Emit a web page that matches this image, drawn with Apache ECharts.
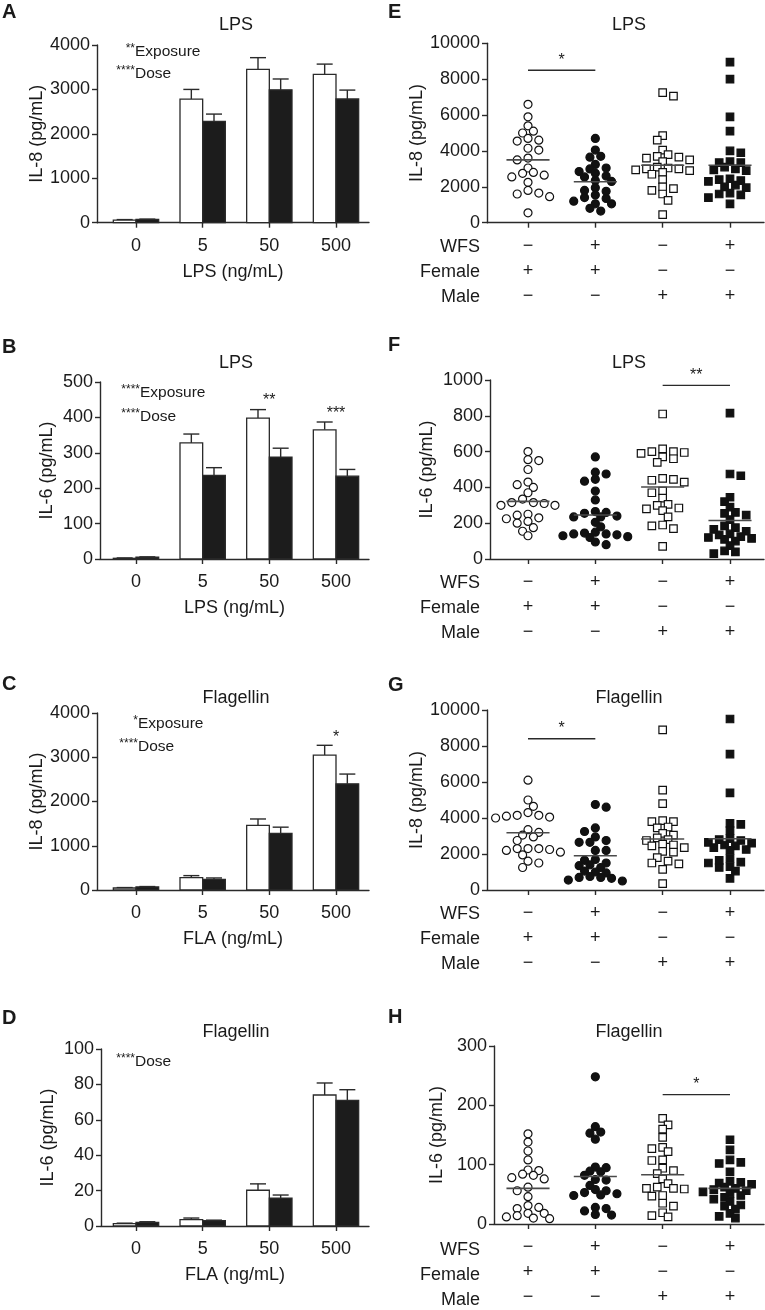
<!DOCTYPE html>
<html><head><meta charset="utf-8">
<script src="https://cdn.jsdelivr.net/npm/echarts@6/dist/echarts.min.js"></script>
<style>html,body{margin:0;padding:0;background:#fff}#c{width:765px;height:1310px}</style>
</head><body><div id="c"></div>
<script>
// ---------------- DATA ----------------
const doseLabels = ['0', '5', '50', '500'];
const wfsRow    = ['\u2212', '+', '\u2212', '+'];
const femaleRow = ['+', '+', '\u2212', '\u2212'];
const maleRow   = ['\u2212', '\u2212', '+', '+'];
const rowNames  = ['WFS', 'Female', 'Male'];

// A: IL-8, LPS (air = white, WFS = black), mean and SEM
const A_airMean = [60, 2780, 3450, 3340];
const A_airSem  = [10, 220, 265, 230];
const A_wfsMean = [75, 2280, 2990, 2785];
const A_wfsSem  = [5, 165, 245, 200];
// B: IL-6, LPS
const B_airMean = [2, 328, 398, 365];
const B_airSem  = [1, 25, 24, 22];
const B_wfsMean = [5, 236, 288, 234];
const B_wfsSem  = [1, 22, 25, 19];
const B_stars   = [[2, 448, '**'], [3, 412, '***']];
// C: IL-8, Flagellin
const C_airMean = [45, 280, 1460, 3050];
const C_airSem  = [10, 45, 145, 220];
const C_wfsMean = [70, 242, 1280, 2400];
const C_wfsSem  = [8, 30, 140, 220];
const C_stars   = [[3, 3440, '*']];
// D: IL-6, Flagellin
const D_airMean = [1.3, 3.6, 20.2, 74];
const D_airSem  = [0.3, 0.9, 3.6, 6.8];
const D_wfsMean = [2.1, 3.0, 15.8, 71];
const D_wfsSem  = [0.3, 0.3, 1.7, 6];

// E: IL-8, LPS, individual donors
const E_femAir  = [6600, 5900, 5400, 5100, 5000, 4700, 4600, 4550, 4150, 4050, 3600, 3500, 3050, 2800, 2750, 2650, 2550, 2250, 1800, 1650, 1600, 1450, 550];
const E_femWfs  = [4700, 4050, 3700, 3650, 3250, 3050, 3000, 2850, 2750, 2600, 2550, 2350, 2300, 1950, 1800, 1750, 1550, 1400, 1350, 1200, 1050, 1050, 800, 650];
const E_maleAir = [7250, 7050, 4850, 4600, 4050, 3800, 3700, 3650, 3600, 3500, 3400, 3100, 3050, 3000, 3000, 2950, 2900, 2800, 2700, 2400, 2000, 1900, 1800, 1600, 1250, 450];
const E_maleWfs = [8950, 8000, 5900, 5100, 4000, 3900, 3400, 3350, 3350, 3100, 3000, 2950, 2900, 2450, 2400, 2350, 2300, 2100, 2000, 1950, 1650, 1600, 1550, 1400, 1050];
const E_means   = [3500, 2280, 3200, 3200];
const E_sig     = [[0, 1, 8500, '*']];
// F: IL-6, LPS
const F_femAir  = [600, 555, 550, 500, 430, 415, 400, 370, 335, 315, 310, 300, 300, 315, 250, 245, 230, 225, 210, 200, 175, 155, 130];
const F_femWfs  = [570, 485, 475, 445, 435, 380, 330, 260, 265, 255, 240, 235, 235, 205, 180, 150, 145, 140, 140, 135, 130, 125, 120, 95, 80];
const F_maleAir = [810, 615, 600, 600, 595, 590, 570, 560, 540, 450, 445, 440, 430, 380, 370, 340, 305, 300, 285, 280, 270, 235, 190, 185, 170, 70];
const F_maleWfs = [815, 475, 465, 345, 320, 290, 260, 255, 245, 220, 185, 175, 165, 155, 140, 135, 125, 120, 115, 110, 100, 75, 45, 40, 30];
const F_means   = [322, 246, 402, 215];
const F_sig     = [[2, 3, 970, '**']];
// G: IL-8, Flagellin
const G_femAir  = [6100, 5000, 4650, 4300, 4150, 4050, 4000, 4100, 4150, 3350, 3200, 3050, 2950, 2750, 2300, 2300, 2200, 2100, 2250, 2300, 1950, 1600, 1500, 1250];
const G_femWfs  = [4750, 4600, 3450, 3250, 2950, 2750, 2650, 2650, 2200, 2200, 1700, 1650, 1500, 1400, 1350, 1250, 1050, 1000, 950, 750, 700, 700, 650, 550, 500];
const G_maleAir = [8900, 5550, 4800, 3850, 3800, 3800, 3500, 3450, 3150, 3050, 2900, 2800, 2750, 2550, 2500, 2450, 2350, 2150, 2100, 1800, 1600, 1450, 1500, 1150, 350];
const G_maleWfs = [9500, 7550, 5400, 3700, 3650, 3300, 2850, 2800, 2750, 2650, 2600, 2500, 2450, 2350, 2250, 2200, 1750, 1650, 1550, 1500, 1300, 1250, 1050, 650];
const G_means   = [3180, 1900, 2830, 2850];
const G_sig     = [[0, 1, 8400, '*']];
// H: IL-6, Flagellin
const H_femAir  = [152, 138, 123, 108, 91, 90, 84, 78, 76, 82, 62, 56, 46, 31, 28, 26, 18, 18, 14, 12, 10, 9];
const H_femWfs  = [248, 164, 155, 153, 143, 96, 95, 89, 88, 82, 75, 74, 65, 58, 56, 53, 51, 49, 48, 28, 26, 22, 16, 15];
const H_maleAir = [178, 167, 160, 146, 129, 127, 122, 108, 107, 94, 90, 85, 76, 68, 62, 60, 60, 59, 48, 47, 35, 30, 19, 14, 12];
const H_maleWfs = [142, 125, 108, 104, 102, 88, 72, 70, 69, 67, 62, 60, 58, 56, 54, 52, 48, 45, 42, 38, 32, 30, 25, 18, 13, 10];
const H_means   = [60, 80, 83, 60];
const H_sig     = [[2, 3, 218, '*']];

// ---------------- LAYOUT ----------------
const FONT = '"Liberation Sans", Arial, Helvetica, sans-serif';
const INK = '#1a1a1a';
const AX = '#2a2a2a';

const barPanels = [
  {letter:'A', title:'LPS', yName:'IL-8 (pg/mL)', xName:'LPS (ng/mL)', left:97, top:45, width:272, height:177.7, xMin:-0.585, xMax:3.495, yMax:4000, yInt:1000,
   air:[A_airMean, A_airSem], wfs:[A_wfsMean, A_wfsSem], stars:[], notes:[['**','Exposure',52],['****','Dose',74]], noteX:135, letterY:12, titleY:25, nameGap:50},
  {letter:'B', title:'LPS', yName:'IL-6 (pg/mL)', xName:'LPS (ng/mL)', left:100, top:382, width:269, height:177, xMin:-0.54, xMax:3.495, yMax:500, yInt:100,
   air:[B_airMean, B_airSem], wfs:[B_wfsMean, B_wfsSem], stars:B_stars, notes:[['****','Exposure',393],['****','Dose',417]], noteX:140, letterY:347, titleY:363, nameGap:44},
  {letter:'C', title:'Flagellin', yName:'IL-8 (pg/mL)', xName:'FLA (ng/mL)', left:97, top:713, width:272, height:177, xMin:-0.585, xMax:3.495, yMax:4000, yInt:1000,
   air:[C_airMean, C_airSem], wfs:[C_wfsMean, C_wfsSem], stars:C_stars, notes:[['*','Exposure',724],['****','Dose',747]], noteX:138, letterY:684, titleY:698, nameGap:50},
  {letter:'D', title:'Flagellin', yName:'IL-6 (pg/mL)', xName:'FLA (ng/mL)', left:101, top:1049, width:268, height:177, xMin:-0.525, xMax:3.495, yMax:100, yInt:20,
   air:[D_airMean, D_airSem], wfs:[D_wfsMean, D_wfsSem], stars:[], notes:[['****','Dose',1062]], noteX:135, letterY:1018, titleY:1032, nameGap:44}
];
const dotPanels = [
  {letter:'E', title:'LPS', yName:'IL-8 (pg/mL)', left:487, top:43.3, width:277, height:179.4, xMin:-0.609, xMax:3.505, yMax:10000, yInt:2000,
   groups:[E_femAir, E_femWfs, E_maleAir, E_maleWfs], means:E_means, sig:E_sig, letterY:12, titleY:25, nameGap:60},
  {letter:'F', title:'LPS', yName:'IL-6 (pg/mL)', left:490, top:380, width:274, height:179, xMin:-0.564, xMax:3.505, yMax:1000, yInt:200,
   groups:[F_femAir, F_femWfs, F_maleAir, F_maleWfs], means:F_means, sig:F_sig, letterY:345, titleY:363, nameGap:54},
  {letter:'G', title:'Flagellin', yName:'IL-8 (pg/mL)', left:487, top:710, width:277, height:180, xMin:-0.609, xMax:3.505, yMax:10000, yInt:2000,
   groups:[G_femAir, G_femWfs, G_maleAir, G_maleWfs], means:G_means, sig:G_sig, letterY:685, titleY:698, nameGap:60},
  {letter:'H', title:'Flagellin', yName:'IL-6 (pg/mL)', left:494, top:1046, width:270, height:180, xMin:-0.505, xMax:3.505, yMax:300, yInt:100,
   groups:[H_femAir, H_femWfs, H_maleAir, H_maleWfs], means:H_means, sig:H_sig, letterY:1017, titleY:1032, nameGap:48}
];

// ---------------- BUILD ----------------
const grids = [], xAxes = [], yAxes = [], series = [], graphics = [];
const FS = 18;

function txt(x, y, text, opt) {
  opt = opt || {};
  graphics.push({type:'text', x:x, y:y, z:100, style:Object.assign({text:text, fill:INK, fontFamily:FONT, fontSize:FS, textAlign:'center', textVerticalAlign:'middle'}, opt)});
}

function addAxes(p, idx, labelFormatter, xName) {
  grids.push({left:p.left, top:p.top, width:p.width, height:p.height, containLabel:false});
  xAxes.push({type:'value', gridIndex:idx, min:p.xMin, max:p.xMax, splitLine:{show:false},
    axisLine:{show:true, onZero:false, lineStyle:{color:AX, width:1.4}},
    axisTick:{show:true, customValues:[0,1,2,3], length:5, lineStyle:{color:AX, width:1.4}},
    axisLabel:{show:true, customValues:[0,1,2,3], formatter:labelFormatter, color:INK, fontSize:FS, fontFamily:FONT, lineHeight:25, margin:11},
    name:xName || '', nameLocation:'middle', nameGap:40, nameTextStyle:{color:INK, fontSize:FS, fontFamily:FONT}});
  yAxes.push({type:'value', gridIndex:idx, min:0, max:p.yMax, interval:p.yInt, splitLine:{show:false},
    axisLine:{show:true, onZero:false, lineStyle:{color:AX, width:1.4}},
    axisTick:{show:true, length:5, lineStyle:{color:AX, width:1.4}},
    axisLabel:{color:INK, fontSize:FS, fontFamily:FONT, margin:7, formatter: v => String(v)},
    name:p.yName, nameLocation:'middle', nameGap:p.nameGap, nameTextStyle:{color:INK, fontSize:FS, fontFamily:FONT}});
}

function barSeries(idx, mean, sem, side) {
  return {type:'custom', xAxisIndex:idx, yAxisIndex:idx, z:3, clip:false,
    data: mean.map((m, i) => [i, m, sem[i]]),
    renderItem: function (params, api) {
      const i = api.value(0), v = api.value(1), e = api.value(2);
      const c = api.coord([i, v]), base = api.coord([i, 0]), top = api.coord([i, v + e]);
      const bw = api.size([1, 0])[0] * 0.34;
      const x0 = side < 0 ? c[0] - bw : c[0];
      const xm = x0 + bw / 2, cap = 8;
      return {type:'group', children:[
        {type:'line', shape:{x1:xm, y1:c[1], x2:xm, y2:top[1]}, style:{stroke:AX, lineWidth:1.4}},
        {type:'line', shape:{x1:xm - cap, y1:top[1], x2:xm + cap, y2:top[1]}, style:{stroke:AX, lineWidth:1.4}},
        {type:'rect', shape:{x:x0, y:c[1], width:bw, height:base[1] - c[1]}, style:{fill: side < 0 ? '#ffffff' : '#1c1c1c', stroke:AX, lineWidth:1.3}}
      ]};
    }};
}

function textSeries(idx, items, dy) {
  return {type:'custom', xAxisIndex:idx, yAxisIndex:idx, z:5, clip:false,
    data: items.map(t => [t[0], t[1]]),
    renderItem: function (params, api) {
      const c = api.coord([api.value(0), api.value(1)]);
      return {type:'text', x:c[0], y:c[1] + (dy || 0), style:{text: items[params.dataIndex][2], fill:INK, fontFamily:FONT, fontSize:16, textAlign:'center', textVerticalAlign:'middle'}};
    }};
}

barPanels.forEach((p, k) => {
  const idx = grids.length;
  addAxes(p, idx, v => doseLabels[Math.round(v)], p.xName);
  series.push(barSeries(idx, p.air[0], p.air[1], -1));
  series.push(barSeries(idx, p.wfs[0], p.wfs[1], 1));
  if (p.stars.length) series.push(textSeries(idx, p.stars, 0));
  txt(2, p.letterY, p.letter, {textAlign:'left', fontWeight:'bold', fontSize:20});
  txt(236, p.titleY, p.title);
  p.notes.forEach(n => {
    txt(p.noteX, n[2] - 3, n[0], {textAlign:'right', fontSize:12});
    txt(p.noteX, n[2], n[1], {textAlign:'left', fontSize:15.5});
  });
});

// deterministic swarm layout of the individual points (horizontal spread only)
function swarmOffsets(values, pxPerVal, pxPerX, minD, step) {
  const order = values.map((v, i) => i).sort((a, b) => values[b] - values[a]);
  const placed = [], offs = new Array(values.length);
  let flip = 1;
  order.forEach(i => {
    const y = values[i] * pxPerVal;
    let chosen = 0;
    for (let k = 0; k < 60; k++) {
      const n = Math.ceil(k / 2);
      const sgn = (k % 2 === 1) ? flip : -flip;
      const cand = k === 0 ? 0 : sgn * n * step;
      if (placed.every(q => Math.hypot(q.x - cand, q.y - y) >= minD)) { chosen = cand; break; }
    }
    if (chosen !== 0) flip = chosen > 0 ? -1 : 1;
    placed.push({x:chosen, y:y});
    offs[i] = chosen / pxPerX;
  });
  return offs;
}

const groupStyles = [
  {symbol:'circle', fill:'#ffffff'},
  {symbol:'circle', fill:'#111111'},
  {symbol:'rect', fill:'#ffffff'},
  {symbol:'rect', fill:'#111111'}
];

dotPanels.forEach(p => {
  const idx = grids.length;
  addAxes(p, idx, v => { const i = Math.round(v); return wfsRow[i] + '\n' + femaleRow[i] + '\n' + maleRow[i]; }, '');
  const pxPerVal = p.height / p.yMax, pxPerX = p.width / (p.xMax - p.xMin);
  p.groups.forEach((vals, g) => {
    const st = groupStyles[g];
    const size = st.symbol === 'circle' ? 8 : 7.5;
    const offs = swarmOffsets(vals, pxPerVal, pxPerX, 6.8, 5.4);
    series.push({type:'scatter', xAxisIndex:idx, yAxisIndex:idx, z:3, symbol:st.symbol, symbolSize:size, clip:false,
      itemStyle:{color:st.fill, borderColor:'#111', borderWidth:1.2, opacity:1},
      emphasis:{disabled:true},
      data: vals.map((v, i) => [g + offs[i], v])});
  });
  // mean lines
  series.push({type:'custom', xAxisIndex:idx, yAxisIndex:idx, z:6, clip:false,
    data: p.means.map((m, g) => [g, m]),
    renderItem: function (params, api) {
      const c = api.coord([api.value(0), api.value(1)]);
      const hw = api.size([1, 0])[0] * 0.32;
      return {type:'line', shape:{x1:c[0] - hw, y1:c[1], x2:c[0] + hw, y2:c[1]}, style:{stroke:'#4a4a4a', lineWidth:1.6}};
    }});
  // significance brackets
  series.push({type:'custom', xAxisIndex:idx, yAxisIndex:idx, z:6, clip:false,
    data: p.sig.map(s => [s[0], s[1], s[2]]),
    renderItem: function (params, api) {
      const a = api.coord([api.value(0), api.value(2)]), b = api.coord([api.value(1), api.value(2)]);
      return {type:'group', children:[
        {type:'line', shape:{x1:a[0], y1:a[1], x2:b[0], y2:b[1]}, style:{stroke:AX, lineWidth:1.4}},
        {type:'text', x:(a[0] + b[0]) / 2, y:a[1] - 10, style:{text:p.sig[params.dataIndex][3], fill:INK, fontFamily:FONT, fontSize:16, textAlign:'center', textVerticalAlign:'middle'}}
      ]};
    }});
  txt(388, p.letterY, p.letter, {textAlign:'left', fontWeight:'bold', fontSize:20});
  txt(629, p.titleY, p.title);
  const yb = p.top + p.height;
  rowNames.forEach((r, j) => txt(480, yb + 24.5 + 25 * j, r, {textAlign:'right'}));
});

const chart = echarts.init(document.getElementById('c'), null, {renderer:'canvas'});
chart.setOption({
  animation:false,
  backgroundColor:'#ffffff',
  textStyle:{fontFamily:FONT},
  grid:grids, xAxis:xAxes, yAxis:yAxes, series:series, graphic:graphics
});
</script></body></html>
